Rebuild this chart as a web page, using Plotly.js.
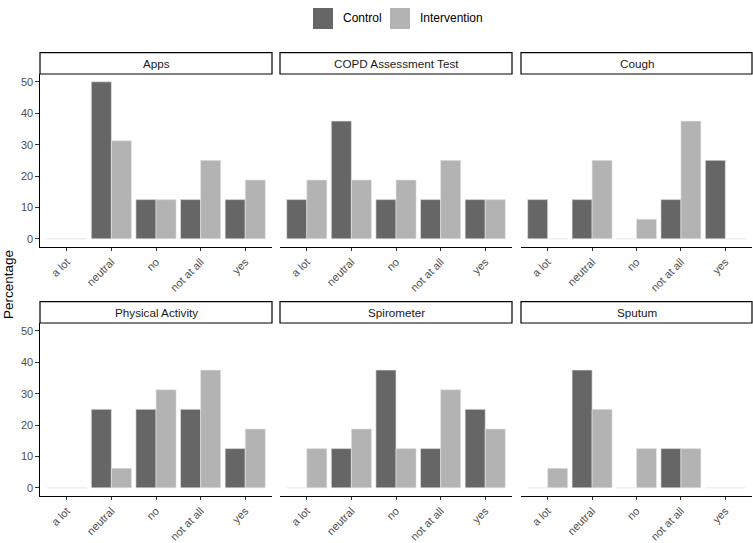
<!DOCTYPE html>
<html>
<head>
<meta charset="utf-8">
<script src="https://cdn.plot.ly/plotly-3.0.1.min.js"></script>
<style>html,body{margin:0;padding:0;background:#fff;}#chart{width:753px;height:543px;}</style>
</head>
<body>
<div id="chart"></div>
<script>
const categories = ['a lot', 'neutral', 'no', 'not at all', 'yes'];
const panels = ['Apps', 'COPD Assessment Test', 'Cough', 'Physical Activity', 'Spirometer', 'Sputum'];
const groups = ['Control', 'Intervention'];
const groupColors = ['#666666', '#B3B3B3'];

const appsControl = [0, 50, 12.5, 12.5, 12.5];
const appsIntervention = [0, 31.25, 12.5, 25, 18.75];
const catControl = [12.5, 37.5, 12.5, 12.5, 12.5];
const catIntervention = [18.75, 18.75, 18.75, 25, 12.5];
const coughControl = [12.5, 12.5, 0, 12.5, 25];
const coughIntervention = [0, 25, 6.25, 37.5, 0];
const physicalControl = [0, 25, 25, 25, 12.5];
const physicalIntervention = [0, 6.25, 31.25, 37.5, 18.75];
const spiroControl = [0, 12.5, 37.5, 12.5, 25];
const spiroIntervention = [12.5, 18.75, 12.5, 31.25, 18.75];
const sputumControl = [0, 37.5, 0, 12.5, 0];
const sputumIntervention = [6.25, 25, 12.5, 12.5, 0];

const yTicks = [0, 10, 20, 30, 40, 50];

const seriesByPanel = [
  [appsControl, appsIntervention],
  [catControl, catIntervention],
  [coughControl, coughIntervention],
  [physicalControl, physicalIntervention],
  [spiroControl, spiroIntervention],
  [sputumControl, sputumIntervention]
];

const W = 753, H = 543;
const font = 'Liberation Sans, Arial, sans-serif';
const colX = [[40, 272], [280, 512], [521, 752]];
const rowY = [[74, 246.7], [323, 495.7]];
const stripY = [[52.7, 74], [301.7, 323]];

const data = [];
const layout = {
  width: W, height: H,
  margin: {l: 0, r: 0, t: 0, b: 0},
  paper_bgcolor: '#fff', plot_bgcolor: '#fff',
  showlegend: false,
  barmode: 'group', bargap: 0.1, bargroupgap: 0,
  font: {family: font, color: '#1A1A1A'},
  shapes: [], annotations: []
};

panels.forEach((name, i) => {
  const r = Math.floor(i / 3), c = i % 3;
  const suf = i === 0 ? '' : String(i + 1);
  groups.forEach((g, k) => {
    data.push({
      type: 'bar', x: categories, y: seriesByPanel[i][k], name: g,
      xaxis: 'x' + suf, yaxis: 'y' + suf,
      marker: {color: groupColors[k], line: {color: '#E6E6E6', width: 0.6}},
      hoverinfo: 'x+y+name'
    });
  });
  const xd = [colX[c][0] / W, colX[c][1] / W];
  const yd = [(H - rowY[r][1]) / H, (H - rowY[r][0]) / H];
  layout['xaxis' + suf] = {
    domain: xd, anchor: 'y' + suf, type: 'category',
    categoryorder: 'array', categoryarray: categories,
    range: [-0.6, 4.6], showline: true, linecolor: '#000', linewidth: 1.1,
    ticks: 'outside', ticklen: 3.5, tickcolor: '#333', tickwidth: 1,
    tickangle: -45, tickfont: {size: 11, color: '#4D4D4D', family: font},
    showgrid: false, zeroline: false, fixedrange: true
  };
  const showY = c === 0;
  layout['yaxis' + suf] = {
    domain: yd, anchor: 'x' + suf, range: [-2.5, 52.5],
    tickvals: yTicks, showticklabels: showY, ticks: showY ? 'outside' : '',
    ticklen: 3.5, tickcolor: '#333', tickwidth: 1,
    showline: showY, linecolor: '#000', linewidth: 1.1,
    tickfont: {size: 11, color: '#4D4D4D', family: font},
    showgrid: false, zeroline: false, fixedrange: true
  };
  layout.shapes.push({
    type: 'rect', xref: 'paper', yref: 'paper',
    x0: xd[0], x1: xd[1], y0: (H - stripY[r][1]) / H, y1: (H - stripY[r][0]) / H,
    line: {color: '#000', width: 1.2}, fillcolor: '#fff', layer: 'above'
  });
  layout.annotations.push({
    xref: 'paper', yref: 'paper', x: (xd[0] + xd[1]) / 2,
    y: (H - (stripY[r][0] + stripY[r][1]) / 2) / H,
    text: name, showarrow: false, xanchor: 'center', yanchor: 'middle',
    font: {size: 11.7, color: '#1A1A1A', family: font}
  });
});

layout.annotations.push({
  xref: 'paper', yref: 'paper', x: 8 / W, y: (H - 285) / H,
  text: 'Percentage', textangle: -90, showarrow: false,
  xanchor: 'center', yanchor: 'middle', font: {size: 13.5, color: '#000', family: font}
});

const legX = [[313, 333], [390, 410]];
const legTextX = [341, 418];
groups.forEach((g, k) => {
  layout.shapes.push({
    type: 'rect', xref: 'paper', yref: 'paper',
    x0: legX[k][0] / W, x1: legX[k][1] / W, y0: (H - 29) / H, y1: (H - 8) / H,
    fillcolor: groupColors[k], line: {width: 0}
  });
  layout.annotations.push({
    xref: 'paper', yref: 'paper', x: legTextX[k] / W, y: (H - 18.5) / H,
    text: g, showarrow: false, xanchor: 'left', yanchor: 'middle',
    font: {size: 12, color: '#000', family: font}
  });
});

Plotly.newPlot('chart', data, layout, {displayModeBar: false, staticPlot: true});
</script>
</body>
</html>
